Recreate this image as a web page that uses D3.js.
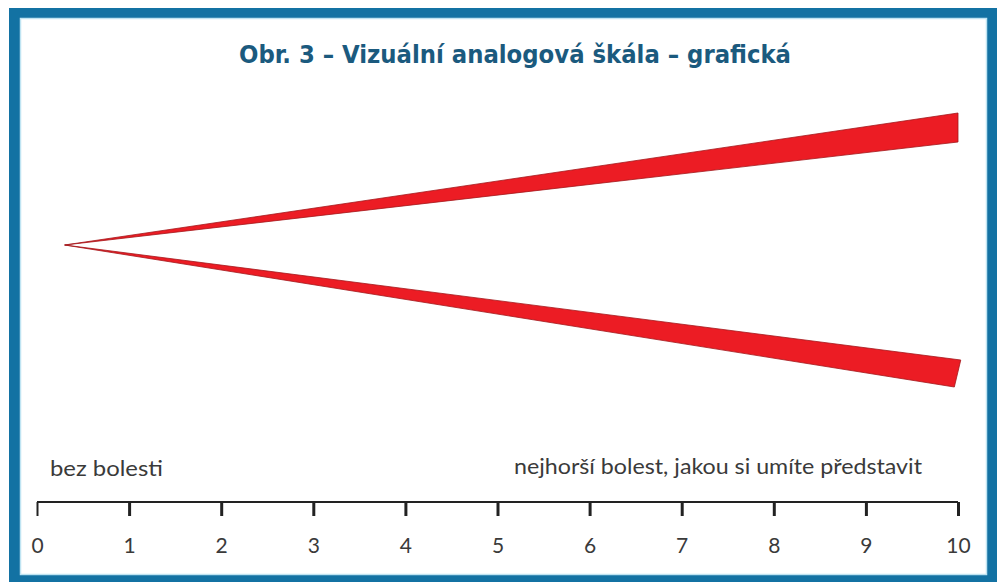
<!DOCTYPE html>
<html>
<head>
<meta charset="utf-8">
<script src="https://cdn.jsdelivr.net/npm/d3@7"></script>
<style>
  html, body { margin: 0; padding: 0; background: #fff; }
  svg { display: block; }
</style>
</head>
<body>
<div id="chart"></div>
<script>
// scale values
var ticks = [0, 1, 2, 3, 4, 5, 6, 7, 8, 9, 10];
var tickLabels = ["0", "1", "2", "3", "4", "5", "6", "7", "8", "9", "10"];
var title = "Obr. 3 – Vizuální analogová škála – grafická";
var leftLabel = "bez bolesti";
var rightLabel = "nejhorší bolest, jakou si umíte představit";

// wedges: [scale position, spread] for the outline, spread in arbitrary units from centre
var upperWedge = [[0.3, 0], [10, 6.6], [10, 5.15]];
var lowerWedge = [[0.3, 0], [10.03, -5.75], [9.96, -7.1]];

var width = 997, height = 582;

var svg = d3.select("#chart").append("svg")
  .attr("width", width)
  .attr("height", height);

// frame
svg.append("rect")
  .attr("x", 9).attr("y", 8)
  .attr("width", width).attr("height", height)
  .attr("fill", "#1372a3");
svg.append("rect")
  .attr("x", 20.5).attr("y", 18.5)
  .attr("width", 966).attr("height", 556)
  .attr("fill", "#fff")
  .attr("stroke", "#bfe4f2")
  .attr("stroke-width", 1.5);

var x = d3.scaleLinear().domain([0, 10]).range([37, 958]);
var y = d3.scaleLinear().domain([-10, 10]).range([445, 45]);

svg.append("text")
  .attr("x", 515).attr("y", 63)
  .attr("text-anchor", "middle")
  .attr("textLength", 552)
  .attr("lengthAdjust", "spacingAndGlyphs")
  .style("font-family", "'Liberation Sans Narrow', 'DejaVu Sans Condensed', sans-serif")
  .style("font-weight", "bold")
  .style("font-size", "24px")
  .style("fill", "#1b5a7e")
  .text(title);

var line = d3.line()
  .x(function(d) { return x(d[0]); })
  .y(function(d) { return y(d[1]); });

[upperWedge, lowerWedge].forEach(function(w) {
  svg.append("path")
    .attr("d", line(w) + "Z")
    .attr("fill", "#ec1c24")
    .attr("stroke", "#a3161b")
    .attr("stroke-width", 0.8)
    .attr("stroke-linejoin", "miter");
});

// axis
var xAxis = d3.axisBottom(x)
  .tickValues(ticks)
  .tickSize(14)
  .tickPadding(22)
  .tickFormat(function(d, i) { return tickLabels[i]; });

var axisG = svg.append("g")
  .attr("transform", "translate(0,502)")
  .call(xAxis);
axisG.select(".domain")
  .attr("d", "M" + x(0) + ",0H" + x(10))
  .attr("stroke", "#222")
  .attr("stroke-width", 2);
axisG.selectAll(".tick line")
  .attr("stroke", "#222")
  .attr("stroke-width", function(d) { return d === 0 ? 2 : 3; });
axisG.selectAll(".tick text")
  .style("font-family", "Lato, 'Open Sans', sans-serif")
  .style("font-weight", 400)
  .style("font-size", "21px")
  .style("fill", "#3a3a3a");

svg.append("text")
  .attr("x", 50).attr("y", 476)
  .attr("textLength", 113)
  .attr("lengthAdjust", "spacingAndGlyphs")
  .style("font-family", "Lato, 'Open Sans', sans-serif")
  .style("font-weight", 400)
  .style("font-size", "21px")
  .style("fill", "#3a3a3a")
  .text(leftLabel);

svg.append("text")
  .attr("x", 514).attr("y", 474)
  .attr("textLength", 408)
  .attr("lengthAdjust", "spacingAndGlyphs")
  .style("font-family", "Lato, 'Open Sans', sans-serif")
  .style("font-weight", 400)
  .style("font-size", "21px")
  .style("fill", "#3a3a3a")
  .text(rightLabel);
</script>
</body>
</html>
